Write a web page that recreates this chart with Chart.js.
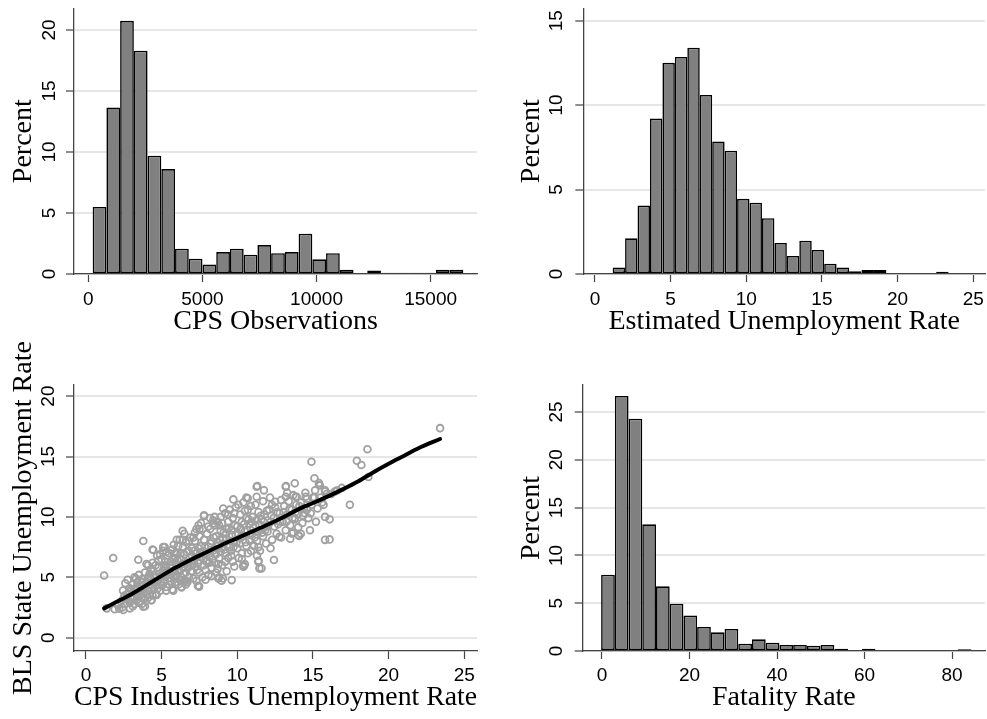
<!DOCTYPE html>
<html><head><meta charset="utf-8">
<script src="https://cdn.jsdelivr.net/npm/chart.js@4.4.1/dist/chart.umd.min.js"></script>
<style>
html,body{margin:0;padding:0;background:#fff;width:987px;height:719px;overflow:hidden;position:relative}
canvas{position:absolute;display:block}
</style></head><body>
<canvas id="cA" width="490" height="340" style="left:0;top:0;width:490px;height:340px"></canvas>
<canvas id="cB" width="497" height="340" style="left:490px;top:0;width:497px;height:340px"></canvas>
<canvas id="cC" width="490" height="419" style="left:0;top:300px;width:490px;height:419px"></canvas>
<canvas id="cD" width="497" height="419" style="left:490px;top:300px;width:497px;height:419px"></canvas>
<script>
// ---------- Panel 1: CPS Observations histogram ----------
const cpsBinStart = 190, cpsBinWidth = 601.6;
const cpsPercent = [5.5,13.65,20.75,18.3,9.7,8.6,2.08,1.25,0.78,1.8,2.08,1.58,2.37,1.7,1.8,3.3,1.2,1.7,0.35,0,0.28,0.1,0.1,0.1,0.1,0.35,0.35];
const cpsXTicks = [0,5000,10000,15000];
const cpsYTicks = [0,5,10,15,20];

// ---------- Panel 2: Estimated Unemployment Rate histogram ----------
const uneBinStart = 1.167, uneBinWidth = 0.8225;
const unePercent = [0.39,2.11,4.05,9.2,12.5,12.85,13.4,10.6,7.85,7.3,4.45,4.22,3.3,1.84,1.07,1.97,1.42,0.61,0.39,0.16,0.24,0.24,0,0,0,0,0.14];
const uneXTicks = [0,5,10,15,20,25];
const uneYTicks = [0,5,10,15];

// ---------- Panel 3: scatter BLS vs CPS ----------
const ratePoints = [
 [1.2,5.15],[1.8,6.6],[3.79,8.0],[3.46,6.45],[4.45,7.26],[5.1,7.5],[5.3,7.1],[6.39,8.86],[6.0,8.1],[7.44,9.3],
 [7.8,10.07],[8.08,9.2],[8.4,9.46],[9.07,10.7],[9.74,11.45],[10.07,11.0],[10.6,11.6],[11.28,12.5],[11.76,12.2],[11.28,11.67],
 [12.16,11.6],[12.5,11.26],[13.2,12.5],[13.2,11.67],[13.8,12.78],[13.85,11.67],[14.9,14.57],[15.1,13.2],[15.46,12.6],[15.9,11.9],
 [16.45,12.1],[17.44,11.0],[17.9,14.65],[18.2,14.3],[18.6,15.6],[18.66,13.3],[23.4,17.35],
 [1.37,2.43],[1.9,2.35],[2.47,2.29],[2.9,2.43],[3.79,2.57],[4.34,3.1],[4.67,3.53],[5.77,3.9],[6.32,4.17],[7.47,4.22],
 [6.6,4.72],[8.74,4.9],[8.96,4.72],[9.63,4.77],[10.44,5.93],[11.6,5.74],[11.39,6.29],[12.42,6.43],[12.78,8.36],[13.5,8.2],
 [14.03,8.5],[14.8,8.9],[15.8,8.1],[16.1,8.14],[15.8,10.0],[16.1,9.8],
 [15.14,12.2],[15.4,12.64],[15.8,12.1],[14.52,11.67],[13.92,11.67],[13.81,9.88],[13.6,8.64],[14.47,10.3],[14.08,8.42],[14.03,9.14],
 [11.32,12.56],[13.22,12.56],[10.69,11.54],[7.8,10.13],[7.47,4.28],[10.4,5.88],[11.46,5.74],[11.41,6.37],
 [2.1,2.7],[2.3,3.0],[2.4,2.5],[2.5,3.3],[2.6,2.8],[2.7,3.6],[2.8,3.1],[2.9,4.1],[2.6,4.5],[2.75,4.8],[2.9,2.9],[2.2,2.4],[2.45,3.9],
 [3.0,3.2],[3.1,4.4],[3.2,2.8],[3.2,5.0],[3.3,3.6],[3.4,4.2],[3.5,2.9],[3.5,5.2],[3.6,3.9],[3.7,4.6],[3.8,3.3],[3.9,5.4],[3.9,2.6],[3.3,4.9],[3.6,3.0],[3.0,4.0],[3.8,4.0],[3.45,3.4],
 [4.0,3.6],[4.1,5.0],[4.1,6.0],[4.2,4.4],[4.3,3.1],[4.3,5.6],[4.4,6.2],[4.5,4.0],[4.5,5.2],[4.6,3.6],[4.7,6.8],[4.7,4.7],[4.8,5.8],[4.9,3.9],[4.9,5.0],[4.4,7.3],[4.0,6.1],[4.2,5.3],[4.6,4.3],[4.8,6.4],
 [5.0,4.3],[5.0,6.5],[5.1,5.6],[5.2,7.5],[5.2,4.8],[5.3,3.9],[5.3,6.0],[5.4,5.2],[5.5,7.0],[5.5,4.4],[5.6,6.3],[5.6,5.8],[5.7,4.0],[5.7,7.3],[5.8,5.0],[5.9,6.6],[5.9,4.6],[5.5,5.5],[5.1,7.2],[5.8,7.7],[5.4,6.8],
 [6.0,5.2],[6.0,7.0],[6.1,4.4],[6.1,6.0],[6.2,8.1],[6.2,5.5],[6.3,6.5],[6.3,4.2],[6.4,7.5],[6.4,5.8],[6.5,4.8],[6.5,6.9],[6.6,7.9],[6.6,5.4],[6.7,6.2],[6.7,4.6],[6.8,7.2],[6.8,5.0],[6.9,8.3],[6.9,6.0],[6.1,7.6],[6.5,8.6],[6.3,5.0],
 [7.0,5.5],[7.0,7.4],[7.1,4.9],[7.1,6.4],[7.2,8.0],[7.2,5.9],[7.3,7.0],[7.3,9.0],[7.4,4.3],[7.4,6.2],[7.5,8.4],[7.5,5.4],[7.6,7.6],[7.6,6.7],[7.7,5.0],[7.7,9.0],[7.8,6.0],[7.8,8.1],[7.9,7.0],[7.9,5.6],[7.2,8.7],[7.6,9.5],[7.0,6.8],
 [8.0,6.4],[8.0,8.6],[8.1,5.2],[8.1,7.5],[8.2,9.0],[8.2,6.8],[8.3,5.8],[8.3,8.0],[8.4,7.2],[8.5,9.3],[8.5,6.2],[8.6,5.4],[8.6,8.4],[8.7,7.6],[8.7,9.6],[8.8,6.6],[8.8,5.0],[8.9,8.9],[8.9,7.1],[8.4,9.7],[8.9,10.0],[8.2,9.9],[8.6,6.9],
 [9.0,7.8],[9.0,9.5],[9.0,6.0],[9.1,8.7],[9.2,7.0],[9.2,10.3],[9.3,5.5],[9.3,8.2],[9.4,9.6],[9.4,6.6],[9.5,7.5],[9.5,10.6],[9.6,8.9],[9.7,6.3],[9.7,9.9],[9.8,7.9],[9.8,5.9],[9.9,8.5],[9.9,10.8],[9.3,9.0],[9.6,7.2],[9.05,4.9],
 [10.0,7.4],[10.0,9.2],[10.1,6.6],[10.2,10.2],[10.2,8.3],[10.3,9.6],[10.3,7.0],[10.4,11.2],[10.5,8.8],[10.5,6.1],[10.6,9.9],[10.6,7.6],[10.7,10.6],[10.8,8.1],[10.8,9.4],[10.9,7.2],[10.9,10.9],[10.4,6.0],
 [11.0,8.6],[11.0,10.0],[11.1,7.6],[11.2,9.3],[11.2,11.0],[11.3,8.0],[11.4,10.4],[11.5,8.9],[11.5,7.2],[11.6,9.8],[11.7,11.3],[11.7,8.4],[11.8,10.2],[11.9,9.2],[11.9,7.8],[11.3,6.8],
 [12.0,8.8],[12.1,10.6],[12.2,9.6],[12.3,8.1],[12.3,11.0],[12.4,9.9],[12.5,10.8],[12.6,8.6],[12.7,9.4],[12.8,10.3],[12.9,8.3],[12.9,11.4],[12.2,7.4],
 [13.0,9.6],[13.1,10.9],[13.2,8.9],[13.3,10.2],[13.4,11.3],[13.5,9.3],[13.6,10.6],[13.7,8.7],[13.8,9.8],[13.9,11.0],[13.3,12.0],[13.7,11.8],
 [14.0,10.2],[14.2,11.2],[14.3,9.5],[14.4,10.7],[14.6,11.5],[14.7,9.9],[14.9,11.0],[14.5,12.0],[14.2,8.6],
 [15.1,11.6],[15.3,10.7],[15.4,12.8],[15.6,11.2],[15.8,12.2],[15.2,9.6],[16.2,11.9],[16.6,12.2],[16.9,12.4],
 [2.55,3.5],[2.65,3.2],[2.85,3.8],[2.95,3.4],[3.05,3.7],[3.15,3.3],[3.25,4.1],[3.35,3.1],[3.4,4.6],[3.55,4.3],[3.65,3.6],[3.75,4.9],[3.85,3.7],[3.95,4.5],[3.1,2.6],[3.7,2.8],
 [4.05,4.6],[4.15,3.9],[4.25,4.9],[4.35,4.1],[4.45,5.5],[4.55,4.7],[4.65,5.0],[4.75,4.1],[4.85,5.3],[4.95,4.6],[4.1,3.3],[4.4,3.5],[4.6,6.0],[4.9,6.9],
 [5.05,5.3],[5.15,4.6],[5.25,6.3],[5.35,5.5],[5.45,4.9],[5.55,6.0],[5.65,5.2],[5.75,6.6],[5.85,5.6],[5.95,5.0],[5.2,5.9],[5.6,4.7],[5.9,7.0],[5.3,4.2],
 [6.05,6.4],[6.15,5.6],[6.25,7.0],[6.35,6.1],[6.45,5.3],[6.55,6.3],[6.65,7.1],[6.75,5.8],[6.85,6.6],[6.95,5.5],[6.2,4.8],[6.6,4.4],[6.4,8.1],[6.8,8.0],
 [7.05,6.1],[7.15,7.2],[7.25,6.6],[7.35,5.6],[7.45,7.4],[7.55,6.4],[7.65,7.1],[7.75,6.5],[7.85,7.5],[7.95,6.3],[7.3,4.7],[7.9,4.8],[7.5,9.0],[7.1,8.3],
 [8.05,7.1],[8.15,6.2],[8.25,7.8],[8.35,6.5],[8.45,8.3],[8.55,7.0],[8.65,7.9],[8.75,6.1],[8.85,8.1],[8.95,7.4],[8.3,5.1],[8.7,5.7],[8.5,10.0],[8.8,9.3],
 [9.05,8.2],[9.15,7.3],[9.25,8.6],[9.35,7.7],[9.45,9.1],[9.55,8.0],[9.65,8.5],[9.75,7.5],[9.85,9.3],[9.95,7.9],[9.2,6.3],[9.6,6.8],[9.4,10.2],[9.8,10.3],
 [10.05,8.6],[10.15,7.8],[10.25,9.0],[10.35,8.4],[10.45,9.4],[10.55,7.9],[10.65,8.9],[10.75,9.8],[10.85,8.5],[10.95,9.6],[10.3,6.5],[10.7,7.0],[10.5,10.5],
 [11.05,9.1],[11.15,8.3],[11.25,9.7],[11.35,8.8],[11.45,9.4],[11.55,10.1],[11.65,8.7],[11.75,9.6],[11.85,8.9],[11.95,10.5],[11.4,7.5],
 [12.05,9.3],[12.25,10.1],[12.45,9.2],[12.65,10.4],[12.85,9.6],[13.05,10.4],[13.25,9.6],[13.45,10.7],[13.65,9.9],[13.85,10.4],
 [14.1,10.9],[14.35,10.1],[14.6,10.6],[14.85,10.3],[15.0,11.6],[15.5,11.6],[15.7,11.0]
];
const fitX = [1.2,2,3,4,5,6,7,8,9,10,11,12,13,14,15,16,17,18,19,20,21,22,23.4];
const fitY = [2.43,2.95,3.6,4.35,5.12,5.85,6.5,7.1,7.7,8.25,8.8,9.35,9.95,10.6,11.15,11.7,12.3,12.95,13.7,14.4,15.05,15.7,16.45];
const scXTicks = [0,5,10,15,20,25];
const scYTicks = [0,5,10,15,20];

// ---------- Panel 4: Fatality Rate histogram ----------
const fatBinStart = -0.2, fatBinWidth = 3.135;
const fatPercent = [7.98,26.67,24.3,13.25,6.76,4.95,3.7,2.51,1.95,2.3,0.77,1.22,0.87,0.63,0.63,0.56,0.63,0.24,0,0.24,0,0,0,0,0,0,0.17];
const fatXTicks = [0,20,40,60,80];
const fatYTicks = [0,5,10,15,20,25];

// ---------- helpers ----------
const tickFont = {family:"'Liberation Sans', Arial, sans-serif", size:19};
const titleFont = {family:"'Liberation Serif', 'Times New Roman', serif", size:28};
const axisColor = '#444';

function fixSize(size){
  return function(s){
    if (s.isHorizontal()) s.height = size; else s.width = size;
    s.paddingLeft = s.paddingRight = s.paddingTop = s.paddingBottom = 0;
  };
}
function setTicks(vals){ return function(s){ s.ticks = vals.map(v => ({value:v})); }; }

function makeScales(o){
  return {
    x: {
      type:'linear', position:'bottom', min:o.xMin, max:o.xMax, offset:false,
      afterBuildTicks:setTicks(o.xTicks), afterFit:fixSize(o.xHeight),
      grid:{drawOnChartArea:false, offset:false, tickLength:8, tickColor:axisColor, tickWidth:1.2},
      border:{display:true, color:axisColor, width:1.3},
      ticks:{font:tickFont, color:'#000', padding:o.xTickPad, minRotation:0, maxRotation:0, autoSkip:false, callback:v=>String(v)},
      title:{display:true, text:o.xTitle, font:titleFont, color:'#000', padding:{top:0, bottom:o.xTitlePad}}
    },
    y: {
      type:'linear', position:'left', min:o.yMin, max:o.yMax,
      afterBuildTicks:setTicks(o.yTicks), afterFit:fixSize(o.yWidth),
      grid:{color:'#e6e6e6', lineWidth:2, tickLength:8, tickColor:axisColor, tickWidth:1.2},
      border:{display:true, color:axisColor, width:1.3},
      ticks:{font:tickFont, color:'#000', padding:o.yTickPad, minRotation:90, maxRotation:90, crossAlign:'center', autoSkip:false, callback:v=>String(v)},
      title:{display:true, text:o.yTitle, font:titleFont, color:'#000', padding:{top:o.yTitlePad, bottom:0}}
    }
  };
}

function histogram(id, start, width, values, scaleOpts, pad){
  const pts = values.map((v,i) => ({x: start + width*(i+0.5), y: v}));
  new Chart(document.getElementById(id), {
    type:'bar',
    data:{datasets:[{data:pts, backgroundColor:'#808080', borderColor:'#000', borderWidth:1.6,
      borderSkipped:false, barPercentage:1, categoryPercentage:1, inflateAmount:0}]},
    options:{responsive:false, animation:false, events:[],
      layout:{padding:pad},
      plugins:{legend:{display:false}, tooltip:{enabled:false}},
      scales:makeScales(scaleOpts)}
  });
}

histogram('cA', cpsBinStart, cpsBinWidth, cpsPercent, {
  xMin:-628, xMax:17032, yMin:0, yMax:21.78, xTicks:cpsXTicks, yTicks:cpsYTicks,
  xTitle:'CPS Observations', yTitle:'Percent', yWidth:74, xHeight:66,
  yTickPad:6, xTickPad:6, yTitlePad:6.5, xTitlePad:2
}, {left:0, top:8.3, right:13, bottom:0});

histogram('cB', uneBinStart, uneBinWidth, unePercent, {
  xMin:-0.773, xMax:25.78, yMin:0, yMax:15.73, xTicks:uneXTicks, yTicks:uneYTicks,
  xTitle:'Estimated Unemployment Rate', yTitle:'Percent', yWidth:93.3, xHeight:66,
  yTickPad:7.5, xTickPad:6, yTitlePad:25, xTitlePad:2
}, {left:0, top:8.3, right:2, bottom:0});

histogram('cD', fatBinStart, fatBinWidth, fatPercent, {
  xMin:-4.41, xMax:87.54, yMin:0, yMax:27.82, xTicks:fatXTicks, yTicks:fatYTicks,
  xTitle:'Fatality Rate', yTitle:'Percent', yWidth:92.7, xHeight:68,
  yTickPad:7.5, xTickPad:5.5, yTitlePad:25, xTitlePad:5
}, {left:0, top:85, right:2, bottom:0});

new Chart(document.getElementById('cC'), {
  type:'scatter',
  data:{datasets:[
    {type:'line', data:fitX.map((x,i)=>({x:x, y:fitY[i]})), borderColor:'#000', borderWidth:4,
     pointRadius:0, tension:0.3, cubicInterpolationMode:'monotone', fill:false, order:0, borderCapStyle:'round'},
    {data:ratePoints.map(p=>({x:p[0], y:p[1]})), pointRadius:3.4, pointBorderWidth:1.8,
     borderColor:'#a0a0a0', backgroundColor:'rgba(0,0,0,0)', pointStyle:'circle', order:1}
  ]},
  options:{responsive:false, animation:false, events:[],
    layout:{padding:{left:0, top:85, right:13, bottom:0}},
    plugins:{legend:{display:false}, tooltip:{enabled:false}},
    scales:makeScales({
      xMin:-0.79, xMax:25.84, yMin:-1.1, yMax:20.92, xTicks:scXTicks, yTicks:scYTicks,
      xTitle:'CPS Industries Unemployment Rate', yTitle:'BLS State Unemployment Rate', yWidth:74, xHeight:68,
      yTickPad:7, xTickPad:5.5, yTitlePad:6.5, xTitlePad:4.7
    })}
});
</script>
</body></html>
